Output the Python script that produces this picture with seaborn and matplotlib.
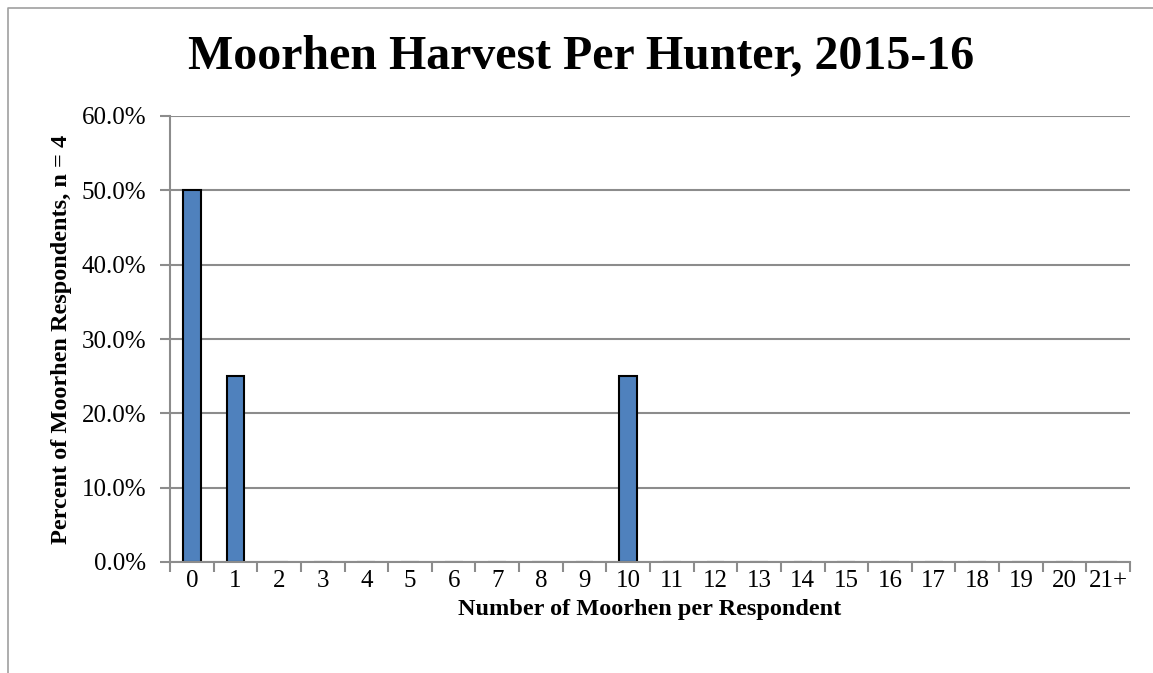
import numpy as np
import pandas as pd
import matplotlib
matplotlib.use("Agg")
import matplotlib.pyplot as plt
import seaborn as sns
from matplotlib.lines import Line2D
from matplotlib.ticker import FuncFormatter

# === Data ===
categories = [str(i) for i in range(21)] + ["21+"]
percent = [50.0, 25.0, 0, 0, 0, 0, 0, 0, 0, 0, 25.0,
           0, 0, 0, 0, 0, 0, 0, 0, 0, 0, 0]

df = pd.DataFrame({"count": categories, "pct": percent})

sns.set_theme(style="white")
plt.rcParams["font.family"] = ["Liberation Serif", "DejaVu Serif"]
plt.rcParams["text.color"] = "black"
plt.rcParams["axes.labelcolor"] = "black"

GRID = "#8c8c8c"

fig = plt.figure(figsize=(11.53, 6.73), dpi=100)
ax = fig.add_axes([170 / 1153, 1 - 562 / 673, 960 / 1153, 446 / 673])

sns.barplot(data=df, x="count", y="pct", order=categories, color="#4F81BD",
            saturation=1, width=0.41, edgecolor="black", linewidth=1.5, ax=ax)

ax.set_ylim(0, 60)
ax.set_xlim(-0.5, len(categories) - 0.5)
ax.set_yticks(np.arange(0, 61, 10))
ax.yaxis.set_major_formatter(FuncFormatter(lambda v, p: f"{v:.1f}%"))
ax.yaxis.grid(True, color=GRID, linewidth=1.5)
ax.set_axisbelow(True)

# tick marks between categories
ax.set_xticks(np.arange(-0.5, len(categories), 1), minor=True)
ax.tick_params(axis="x", which="major", length=0, pad=6, labelsize=18, labelcolor="black")
ax.tick_params(axis="x", which="minor", length=7, width=1.5, color=GRID, direction="out", bottom=True)
ax.tick_params(axis="y", which="major", length=7, width=1.5, color=GRID, direction="out", left=True,
               labelsize=18, labelcolor="black", pad=10)

for s in ["top", "right"]:
    ax.spines[s].set_visible(False)
for s in ["left", "bottom"]:
    ax.spines[s].set_color(GRID)
    ax.spines[s].set_linewidth(1.5)

ax.set_xlabel("Number of Moorhen per Respondent", fontsize=17.5, fontweight="bold", labelpad=5)
ax.set_ylabel("Percent of Moorhen Respondents, n = 4", fontsize=17.5, fontweight="bold", labelpad=7)

fig.text(0.504, 1 - 56 / 673, "Moorhen Harvest Per Hunter, 2015-16", ha="center", va="center",
         fontsize=34.5, fontweight="bold")

# outer chart border (left and top only visible)
bx = 7.5 / 1153
by = 1 - 7.5 / 673
fig.add_artist(Line2D([bx, bx, 1.0], [0.0, by, by], transform=fig.transFigure,
                      color="#a0a0a0", linewidth=1.2))

fig.savefig("out.png", dpi=100)
